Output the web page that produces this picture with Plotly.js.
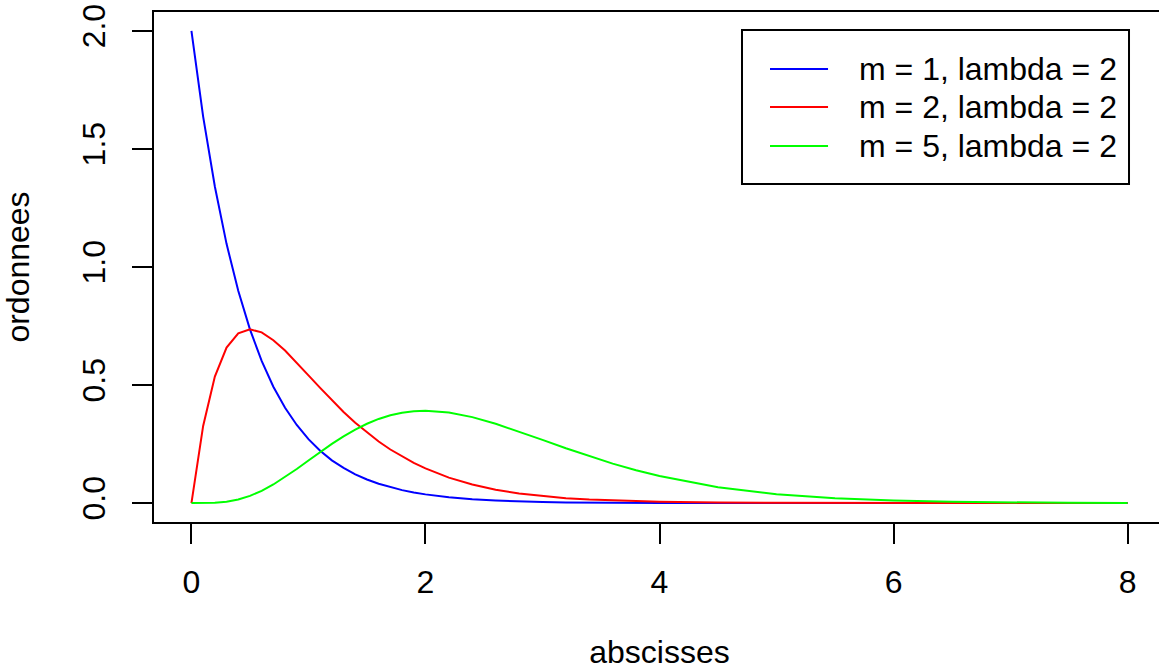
<!DOCTYPE html>
<html>
<head>
<meta charset="utf-8">
<script src="https://cdn.plot.ly/plotly-3.0.1.min.js"></script>
<style>
html, body { margin: 0; padding: 0; overflow: hidden; background: #fff; }
#chart { width: 1200px; height: 670px; }
</style>
</head>
<body>
<div id="chart"></div>
<script>
// abscissa values
var xValues = [0, 0.1, 0.2, 0.3, 0.4, 0.5, 0.6, 0.7, 0.8, 0.9, 1.0, 1.1, 1.2, 1.3, 1.4, 1.5, 1.6, 1.7, 1.8, 1.9, 2.0,
  2.2, 2.4, 2.6, 2.8, 3.0, 3.2, 3.4, 3.6, 3.8, 4.0,
  4.5, 5.0, 5.5, 6.0, 6.5, 7.0, 7.5, 8.0];

// m = 1, lambda = 2
var yM1 = [2, 1.637, 1.341, 1.098, 0.899, 0.736, 0.602, 0.493, 0.404, 0.331, 0.271, 0.222, 0.181, 0.149, 0.122, 0.100, 0.082, 0.067, 0.055, 0.045, 0.037,
  0.025, 0.016, 0.011, 0.007, 0.005, 0.003, 0.002, 0.0015, 0.001, 0.0007,
  0.0002, 0.0001, 0, 0, 0, 0, 0, 0];

// m = 2, lambda = 2
var yM2 = [0, 0.327, 0.536, 0.659, 0.719, 0.736, 0.723, 0.690, 0.646, 0.595, 0.541, 0.488, 0.435, 0.386, 0.340, 0.299, 0.261, 0.227, 0.197, 0.170, 0.147,
  0.108, 0.079, 0.057, 0.041, 0.030, 0.021, 0.015, 0.011, 0.0076, 0.0054,
  0.0022, 0.0009, 0.0004, 0.00015, 0.00006, 0.00002, 0.00001, 0];

// m = 5, lambda = 2
var yM5 = [0, 0.0001, 0.0014, 0.0059, 0.0153, 0.0307, 0.0521, 0.0789, 0.1103, 0.1446, 0.1804, 0.2163, 0.2508, 0.2829, 0.3114, 0.3361, 0.3565, 0.3719, 0.3824, 0.3887, 0.3907,
  0.3835, 0.3641, 0.3361, 0.3031, 0.2677, 0.2323, 0.1985, 0.1672, 0.1391, 0.1145,
  0.0675, 0.0378, 0.0204, 0.0106, 0.0054, 0.0027, 0.0013, 0.0006];

var seriesNames = ["m = 1, lambda = 2", "m = 2, lambda = 2", "m = 5, lambda = 2"];
var seriesColors = ["#0000FF", "#FF0000", "#00FF00"];
var xTickVals = [0, 2, 4, 6, 8];
var yTickVals = [0, 0.5, 1, 1.5, 2];
var yTickText = ["0.0", "0.5", "1.0", "1.5", "2.0"];

var ys = [yM1, yM2, yM5];
var traces = ys.map(function (y, i) {
  return {
    x: xValues, y: y, type: "scatter", mode: "lines",
    name: seriesNames[i],
    line: { color: seriesColors[i], width: 2 }
  };
});

var fontFam = "Liberation Sans, Arial, Helvetica, sans-serif";
var fs = 32;

// legend box drawn in paper coordinates (R-style legend)
var legBox = { x0: 0.5816, x1: 0.9644, y0: 0.6627, y1: 0.9647 };
var legLineX = [0.6093, 0.6667];
var legRowY = [0.8882, 0.8137, 0.7373];
var legTextX = 0.6954;

var shapes = [{
  type: "rect", xref: "paper", yref: "paper",
  x0: legBox.x0, x1: legBox.x1, y0: legBox.y0, y1: legBox.y1,
  line: { color: "#000", width: 2 }, fillcolor: "#fff", layer: "above"
}];
var annotations = [];
seriesNames.forEach(function (name, i) {
  shapes.push({
    type: "line", xref: "paper", yref: "paper",
    x0: legLineX[0], x1: legLineX[1], y0: legRowY[i], y1: legRowY[i],
    line: { color: seriesColors[i], width: 2 }, layer: "above"
  });
  annotations.push({
    xref: "paper", yref: "paper", x: legTextX, y: legRowY[i],
    xanchor: "left", yanchor: "middle", showarrow: false,
    text: name, font: { family: fontFam, size: fs, color: "#000" }
  });
});

var layout = {
  width: 1200, height: 670,
  margin: { l: 154, r: 35, t: 12, b: 148 },
  paper_bgcolor: "#fff", plot_bgcolor: "#fff",
  font: { family: fontFam, size: fs, color: "#000" },
  showlegend: false,
  shapes: shapes,
  annotations: annotations,
  xaxis: {
    range: [-0.32, 8.32], tickmode: "array", tickvals: xTickVals,
    ticks: "outside", ticklen: 20, tickwidth: 2, tickcolor: "#000",
    showline: true, mirror: true, linecolor: "#000", linewidth: 2,
    showgrid: false, zeroline: false,
    ticklabelstandoff: 11,
    tickfont: { family: fontFam, size: fs, color: "#000" },
    title: { text: "abscisses", standoff: 55, font: { family: fontFam, size: fs, color: "#000" } }
  },
  yaxis: {
    range: [-0.08, 2.08], tickmode: "array", tickvals: yTickVals, ticktext: yTickText,
    ticks: "outside", ticklen: 20, tickwidth: 2, tickcolor: "#000",
    showline: true, mirror: true, linecolor: "#000", linewidth: 2,
    showgrid: false, zeroline: false, tickangle: -90,
    ticklabelstandoff: 14,
    tickfont: { family: fontFam, size: fs, color: "#000" },
    title: { text: "ordonnees", standoff: 42, font: { family: fontFam, size: fs, color: "#000" } }
  }
};

Plotly.newPlot("chart", traces, layout, { displayModeBar: false, staticPlot: true });
</script>
</body>
</html>
